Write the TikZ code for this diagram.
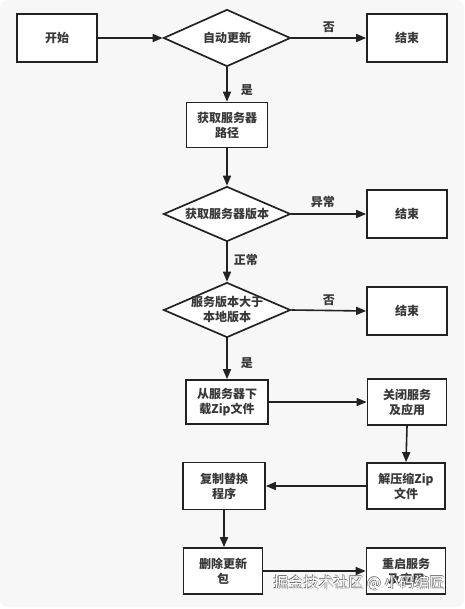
\documentclass[tikz,border=0pt]{standalone}
\usepackage{fontspec}
\setmainfont{Noto Sans CJK SC}
\usetikzlibrary{arrows.meta,shapes.geometric}
\definecolor{bgc}{RGB}{247,247,247}
\definecolor{ink}{RGB}{34,34,34}
\definecolor{wmline}{RGB}{110,110,110}
\begin{document}
\begin{tikzpicture}[x=1pt,y=-1pt,
  box/.style={draw=ink, line width=1.7pt, fill=white, minimum width=80pt, minimum height=46pt,
    align=center, font=\fontsize{12}{15}\selectfont\bfseries, text=ink!90, inner sep=0pt},
  dia/.style={diamond, draw=ink, line width=1.7pt, fill=white, minimum width=127pt,
    minimum height=57pt, inner sep=0pt},
  arr/.style={draw=ink, line width=1.6pt, -{Triangle[length=10pt,width=8pt]}},
  lbl/.style={font=\fontsize{12}{15}\selectfont\bfseries, text=ink!90, inner sep=0pt, align=center},
  wm/.style={font=\fontsize{15}{18}\selectfont, inner sep=0pt}]
\path[use as bounding box, fill=white] (0,0) rectangle (464,609);
\fill[bgc, rounded corners=8pt] (0,0) rectangle (464,607);

\node[box, minimum height=48pt] (start) at (57,38) {开始};
\node[dia, label={[lbl]center:自动更新}] (d1) at (227,38) {};
\node[box, minimum height=48pt] (e1) at (407,38) {结束};
\node[box, minimum width=81pt, minimum height=45pt] (b2) at (227,125) {获取服务器\\路径};
\node[dia, minimum height=55pt, label={[lbl]center:获取服务器版本}] (d2) at (227,214) {};
\node[box, minimum height=48pt] (e2) at (407,214) {结束};
\node[dia, minimum height=55pt, label={[lbl]center:服务版本大于\\本地版本}] (d3) at (227,310) {};
\node[box, minimum height=48pt] (e3) at (407,311) {结束};
\node[box, minimum width=82pt, minimum height=44pt] (b4) at (227,402) {从服务器下\\载Zip文件};
\node[box, minimum width=79pt] (b5) at (407,402) {关闭服务\\及应用};
\node[box, minimum width=78pt] (b6) at (406,486) {解压缩Zip\\文件};
\node[box, minimum width=82pt, minimum height=47pt] (b7) at (224,486) {复制替换\\程序};
\node[box, minimum width=79pt] (b8) at (223,571) {删除更新\\包};
\node[box, minimum width=79pt] (b9) at (406,571) {重启服务\\及应用};

\draw[arr] (start.east) -- (d1.west);
\draw[arr] (d1.east) -- node[lbl, above=5pt] (l1) {否} (e1.west);
\draw[arr] (d1.south) -- node[lbl, pos=0.67, right=13pt] (l2) {是} (b2.north);
\draw[arr] (b2.south) -- (d2.north);
\draw[arr] (d2.east) -- node[lbl, pos=0.42, above=6pt] (l3) {异常} (e2.west);
\draw[arr] (d2.south) -- node[lbl, pos=0.45, right=6pt] (l4) {正常} (d3.north);
\draw[arr] (d3.east) -- node[lbl, above=4pt] (l5) {否} (e3.west);
\draw[arr] (d3.south) -- node[lbl, pos=0.6, right=13pt] (l6) {是} (b4.north);
\draw[arr] (b4.east) -- (b5.west);
\draw[arr] (b5.south) -- (b6.north);
\draw[arr] (b6.west) -- (b7.east);
\draw[arr] (b7.south) -- ([xshift=1pt]b8.north);
\draw[arr] (b8.east) -- (b9.west);

\node[wm, text=wmline] (wma) at (359.6,583.6) {掘金技术社区 @ 小码编匠};
\node[wm, text=wmline] (wmb) at (358.4,582.4) {掘金技术社区 @ 小码编匠};
\node[wm, text=white] (wmc) at (359,583) {掘金技术社区 @ 小码编匠};
\end{tikzpicture}
\end{document}
